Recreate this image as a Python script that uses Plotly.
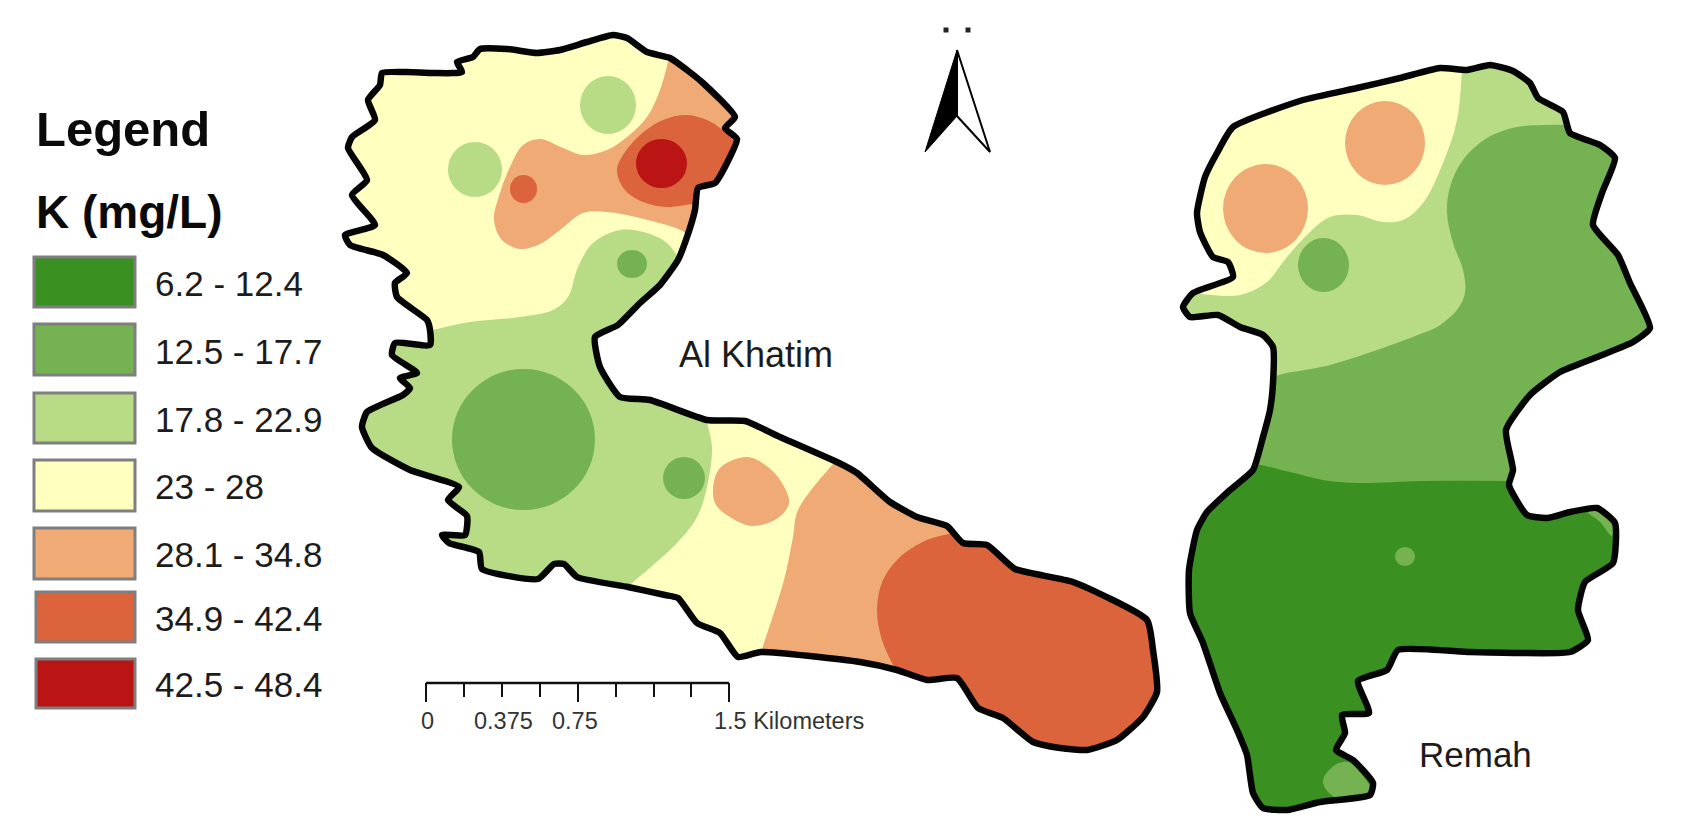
import plotly.graph_objects as go

GREEN_DARK = "#3a9122"
GREEN_MID = "#75b251"
GREEN_LIGHT = "#b8db86"
YELLOW = "#ffffc0"
ORANGE = "#f0aa75"
RED_ORANGE = "#db643c"
RED_DARK = "#ba1414"

LEGEND_LABELS = ["6.2 - 12.4", "12.5 - 17.7", "17.8 - 22.9", "23 - 28",
                 "28.1 - 34.8", "34.9 - 42.4", "42.5 - 48.4"]
LEGEND_COLORS = [GREEN_DARK, GREEN_MID, GREEN_LIGHT, YELLOW, ORANGE, RED_ORANGE, RED_DARK]
LEGEND_LEFT = [34, 34, 34, 34, 34, 36, 36]
LEGEND_TOP = [257, 324, 393, 460, 528, 592, 659]
LEGEND_BOTTOM = [307, 375, 443, 511, 579, 642, 708]
LEGEND_TEXT_Y = [283, 351, 419, 486, 554, 618, 684]

# outlines, clockwise
KHATIM = [(382,73),(407,72),(433,73),(462,72),(457,62),(473,57),(480,49),(507,49),(537,53),
          (560,50),(587,42),(613,35),(627,38),(647,52),(670,58),(687,70),(703,83),(735,117),
          (725,128),(737,139),(727,163),(715,183),(698,188),(695,210),(687,237),(678,260),
          (660,285),(640,303),(618,325),(595,337),(600,367),(620,397),(650,400),(707,420),
          (745,421),(780,437),(839,463),(857,473),(890,502),(917,517),(947,526),(963,543),
          (987,545),(1015,569),(1073,582),(1147,620),(1153,650),(1157,692),(1143,717),
          (1117,740),(1087,750),(1060,748),(1033,742),(1003,718),(978,708),(957,678),(927,680),
          (897,670),(860,662),(761,652),(738,657),(720,633),(697,623),(678,598),(665,595),
          (628,587),(577,577),(564,564),(554,564),(538,579),(482,569),(479,552),(449,543),
          (442,535),(465,535),(467,516),(448,500),(459,487),(410,470),(372,448),(362,427),
          (367,412),(403,395),(410,388),(400,378),(417,373),(392,355),(395,343),(430,345),
          (430,330),(427,320),(397,297),(395,283),(407,273),(383,255),(350,245),(345,235),
          (375,225),(352,195),(367,180),(348,148),(352,137),(375,120),(368,100),(380,85)]
REMAH = [(1233,127),(1303,100),(1357,88),(1400,78),(1440,68),(1467,70),(1490,65),(1513,71),
         (1530,83),(1538,98),(1563,112),(1570,133),(1600,145),(1615,158),(1602,193),(1593,225),
         (1618,255),(1630,283),(1650,328),(1633,342),(1597,357),(1560,372),(1530,395),(1506,430),
         (1513,470),(1509,485),(1527,515),(1547,518),(1570,512),(1597,508),(1615,523),(1613,563),
         (1585,582),(1578,610),(1588,640),(1570,652),(1520,653),(1470,652),(1398,650),(1387,670),
         (1358,681),(1369,713),(1342,715),(1345,733),(1336,750),(1353,760),(1373,783),(1370,795),
         (1320,802),(1287,810),(1263,808),(1253,793),(1247,755),(1237,730),(1220,693),(1203,643),
         (1190,613),(1189,570),(1197,530),(1207,512),(1230,490),(1253,470),(1263,437),(1270,410),
         (1273,383),(1273,347),(1263,335),(1240,327),(1218,315),(1190,317),(1183,307),(1193,293),
         (1233,277),(1228,262),(1213,257),(1200,232),(1197,213),(1205,177),(1217,153)]

# zone edges inside the outlines
KH_LIGHT_TOP = [(433,330),(470,322),(520,317),(553,310),(568,297),(578,267),(593,243),(620,230),
                (647,233),(667,243),(678,258)]
KH_LIGHT_EAST = [(707,422),(712,447),(707,487),(697,517),(677,543),(630,585)]
KH_ORANGE_EDGE = [(668,62),(660,90),(647,117),(627,137),(607,150),(583,155),(563,148),(540,139),
                  (523,145),(510,167),(500,193),(494,220),(502,240),(520,249),(540,244),(560,230),
                  (583,213),(607,212),(640,218),(684,232)]
KH_NE_RED_EDGE = [(733,140),(720,128),(707,120),(687,115),(663,120),(640,135),(620,160),(617,172),
                  (625,190),(643,202),(667,207),(695,205)]
KH_SE_ORANGE_EDGE = [(834,463),(798,510),(793,537),(784,580),(761,652)]
KH_SE_RED_EDGE = [(953,533),(927,540),(900,557),(883,580),(877,610),(882,640),(895,668)]
KH_BLOB = [(713,490),(720,468),(747,457),(768,467),(782,483),(789,503),(778,518),(752,526),
           (730,517),(716,505),(713,490)]

RE_LIGHT_EDGE = [(1462,68),(1457,120),(1443,163),(1423,203),(1403,220),(1383,222),(1357,215),
                 (1330,217),(1310,232),(1287,257),(1267,282),(1247,293),(1230,296),(1193,293)]
RE_MID_EDGE = [(1568,125),(1543,125),(1517,127),(1487,138),(1463,160),(1450,187),(1447,213),
               (1453,243),(1463,270),(1465,293),(1457,310),(1437,327),(1423,333),(1383,348),
               (1330,365),(1273,378)]
RE_DARK_EDGE = [(1253,465),(1290,472),(1323,480),(1357,483),(1423,481),(1509,481)]
RE_SOUTH_BLOB = [(1323,780),(1335,765),(1348,762),(1362,775),(1371,790),(1365,797),(1340,799),
                 (1328,792),(1323,780)]
RE_EAST_SLIVER = [(1588,512),(1604,512),(1613,525),(1612,536),(1600,522),(1588,512)]

# spots as left, top, right, bottom
KH_MID_SPOTS = [(452,369,595,510),(663,457,705,499),(617,250,647,278)]
KH_LIGHT_SPOTS = [(580,76,636,134),(448,142,502,197)]
KH_RED_SPOTS = [(510,175,537,203)]
KH_DARK_SPOTS = [(636,139,687,188)]
RE_ORANGE_SPOTS = [(1345,101,1425,185),(1223,164,1308,253)]
RE_MID_SPOTS = [(1298,238,1349,292),(1395,547,1415,566)]

SCALE_TICKS = [426, 464, 502, 540, 578, 616, 654, 691, 729]
SCALE_TICK_ENDS = [702, 697, 697, 697, 702, 697, 697, 697, 702]
SCALE_LABELS = ["0", "0.375", "0.75", "1.5 Kilometers"]
SCALE_LABEL_X = [427, 503, 575, 712]


def arc(outline, start, end):
    # walk along an outline between the vertices nearest to two points
    def nearest(p):
        dist = [(q[0]-p[0])**2+(q[1]-p[1])**2 for q in outline]
        return dist.index(min(dist))
    i, j = nearest(start), nearest(end)
    if i <= j:
        return outline[i:j+1]
    return outline[i:]+outline[:j+1]


fig = go.Figure()


def area(points, color):
    fig.add_trace(go.Scatter(
        x=[p[0] for p in points],
        y=[p[1] for p in points],
        mode="lines",
        fill="toself",
        fillcolor=color,
        line=dict(width=0, shape="spline", smoothing=1.0, color=color),
        hoverinfo="skip",
    ))


def border(points):
    closed = points+[points[0]]
    fig.add_trace(go.Scatter(
        x=[p[0] for p in closed],
        y=[p[1] for p in closed],
        mode="lines",
        line=dict(width=6.5, shape="spline", smoothing=0.5, color="#050505"),
        hoverinfo="skip",
    ))


def spots(boxes, color):
    for left, top, right, bottom in boxes:
        fig.add_shape(type="circle", x0=left, y0=top, x1=right, y1=bottom,
                      fillcolor=color, line_width=0)


# Al Khatim
area(KHATIM, YELLOW)
area(KH_LIGHT_TOP+arc(KHATIM, KH_LIGHT_TOP[-1], KH_LIGHT_EAST[0])+KH_LIGHT_EAST
     +arc(KHATIM, KH_LIGHT_EAST[-1], KH_LIGHT_TOP[0]), GREEN_LIGHT)
area(KH_ORANGE_EDGE+arc(KHATIM, KH_ORANGE_EDGE[0], KH_ORANGE_EDGE[-1])[::-1], ORANGE)
area(KH_NE_RED_EDGE+arc(KHATIM, KH_NE_RED_EDGE[0], KH_NE_RED_EDGE[-1])[::-1], RED_ORANGE)
area(arc(KHATIM, KH_SE_ORANGE_EDGE[0], KH_SE_ORANGE_EDGE[-1])+KH_SE_ORANGE_EDGE[::-1], ORANGE)
area(arc(KHATIM, KH_SE_RED_EDGE[0], KH_SE_RED_EDGE[-1])+KH_SE_RED_EDGE[::-1], RED_ORANGE)
area(KH_BLOB, ORANGE)
border(KHATIM)

# Remah
area(REMAH, YELLOW)
area(arc(REMAH, RE_LIGHT_EDGE[0], RE_LIGHT_EDGE[-1])+RE_LIGHT_EDGE[::-1], GREEN_LIGHT)
area(arc(REMAH, RE_MID_EDGE[0], RE_MID_EDGE[-1])+RE_MID_EDGE[::-1], GREEN_MID)
area(arc(REMAH, RE_DARK_EDGE[-1], RE_DARK_EDGE[0])+RE_DARK_EDGE, GREEN_DARK)
area(RE_SOUTH_BLOB, GREEN_MID)
area(RE_EAST_SLIVER, GREEN_MID)
border(REMAH)

spots(KH_MID_SPOTS, GREEN_MID)
spots(KH_LIGHT_SPOTS, GREEN_LIGHT)
spots(KH_RED_SPOTS, RED_ORANGE)
spots(KH_DARK_SPOTS, RED_DARK)
spots(RE_ORANGE_SPOTS, ORANGE)
spots(RE_MID_SPOTS, GREEN_MID)

# legend boxes
for i in range(len(LEGEND_LABELS)):
    fig.add_shape(type="rect", x0=LEGEND_LEFT[i], x1=135, y0=LEGEND_TOP[i], y1=LEGEND_BOTTOM[i],
                  fillcolor=LEGEND_COLORS[i], line=dict(color="#7f7f7f", width=3))
    fig.add_annotation(x=153, y=LEGEND_TEXT_Y[i], text=LEGEND_LABELS[i], xanchor="left", yanchor="middle",
                       showarrow=False, font=dict(size=35, color="#1c1c1c"))

fig.add_annotation(x=34, y=129, text="<b>Legend</b>", xanchor="left", yanchor="middle",
                   showarrow=False, font=dict(size=49, color="#0a0a0a"))
fig.add_annotation(x=34, y=212, text="<b>K (mg/L)</b>", xanchor="left", yanchor="middle",
                   showarrow=False, font=dict(size=46, color="#0a0a0a"))
fig.add_annotation(x=677, y=354, text="Al Khatim", xanchor="left", yanchor="middle",
                   showarrow=False, font=dict(size=36, color="#1c1c1c"))
fig.add_annotation(x=1417, y=754, text="Remah", xanchor="left", yanchor="middle",
                   showarrow=False, font=dict(size=35, color="#1c1c1c"))

# scale bar
fig.add_trace(go.Scatter(x=[SCALE_TICKS[0], SCALE_TICKS[-1]], y=[683, 683], mode="lines",
                         line=dict(color="#111111", width=2.5), hoverinfo="skip"))
for tick, tick_end in zip(SCALE_TICKS, SCALE_TICK_ENDS):
    fig.add_trace(go.Scatter(x=[tick, tick], y=[683, tick_end], mode="lines",
                             line=dict(color="#111111", width=2), hoverinfo="skip"))
for label, label_x in zip(SCALE_LABELS, SCALE_LABEL_X):
    anchor = "left" if label_x == SCALE_LABEL_X[-1] else "center"
    fig.add_annotation(x=label_x, y=721, text=label, xanchor=anchor, yanchor="middle",
                       showarrow=False, font=dict(size=23.5, color="#333333"))

# north arrow
fig.add_trace(go.Scatter(x=[957, 925, 957, 957], y=[50, 152, 116, 50], mode="lines", fill="toself",
                         fillcolor="#000000", line=dict(color="#000000", width=1), hoverinfo="skip"))
fig.add_trace(go.Scatter(x=[957, 990, 957, 957], y=[50, 152, 116, 50], mode="lines", fill="toself",
                         fillcolor="#ffffff", line=dict(color="#000000", width=2), hoverinfo="skip"))
fig.add_trace(go.Scatter(x=[946, 968], y=[30, 30], mode="markers",
                         marker=dict(color="#222222", size=5, symbol="square"), hoverinfo="skip"))

fig.update_layout(
    width=1682,
    height=837,
    margin=dict(l=0, r=0, t=0, b=0),
    paper_bgcolor="white",
    plot_bgcolor="white",
    showlegend=False,
    font=dict(family="Liberation Sans, Arial, sans-serif"),
    xaxis=dict(range=[0, 1682], visible=False, fixedrange=True),
    yaxis=dict(range=[837, 0], visible=False, fixedrange=True),
)

fig.write_html("out.html", config={"displayModeBar": False},
               post_script="document.body.style.margin='0';")
